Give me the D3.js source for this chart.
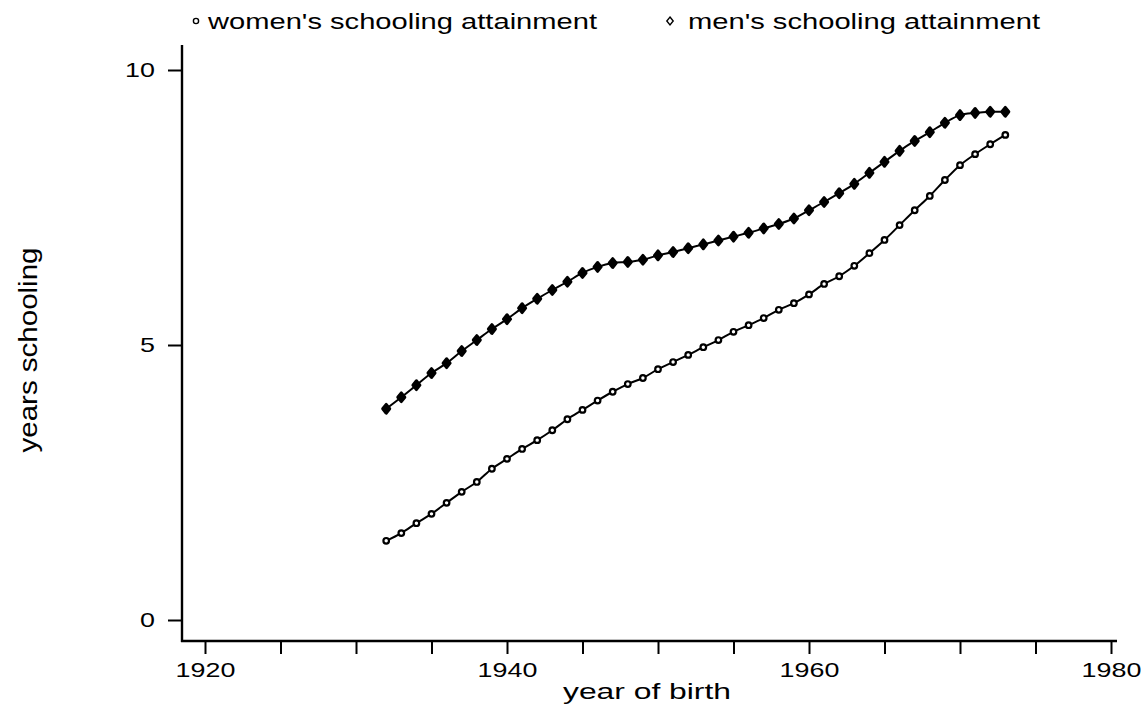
<!DOCTYPE html>
<html>
<head>
<meta charset="utf-8">
<script src="https://cdn.jsdelivr.net/npm/d3@7"></script>
<style>
  html, body { margin: 0; padding: 0; background: #fff; }
  svg { display: block; }
  text { font-family: "Liberation Sans", Arial, Helvetica, sans-serif; fill: #000; }
</style>
</head>
<body>
<svg id="chart" width="1141" height="710"></svg>
<script>
// ---- data ----
const years = [1932,1933,1934,1935,1936,1937,1938,1939,1940,1941,
               1942,1943,1944,1945,1946,1947,1948,1949,1950,1951,
               1952,1953,1954,1955,1956,1957,1958,1959,1960,1961,
               1962,1963,1964,1965,1966,1967,1968,1969,1970,1971,
               1972,1973];
const women = [1.44,1.58,1.76,1.93,2.13,2.33,2.51,2.75,2.93,3.11,
               3.27,3.45,3.65,3.82,3.99,4.15,4.29,4.40,4.56,4.69,
               4.82,4.96,5.09,5.24,5.36,5.49,5.64,5.76,5.92,6.11,
               6.25,6.44,6.67,6.91,7.18,7.45,7.71,8.00,8.27,8.47,
               8.65,8.82];
const men = [3.84,4.05,4.27,4.49,4.67,4.89,5.09,5.29,5.47,5.67,
             5.84,6.00,6.15,6.31,6.42,6.49,6.51,6.55,6.63,6.69,
             6.76,6.83,6.90,6.97,7.04,7.12,7.20,7.30,7.45,7.60,
             7.76,7.93,8.13,8.33,8.53,8.71,8.87,9.04,9.18,9.22,
             9.24,9.24];
const xTickValues = [1920,1925,1930,1935,1940,1945,1950,1955,1960,1965,1970,1975,1980];
const xTickLabels = [1920,1940,1960,1980];
const yTickValues = [0,5,10];
const seriesNames = ["women's schooling attainment", "men's schooling attainment"];
const xTitle = "year of birth";
const yTitle = "years schooling";

// ---- layout ----
const SX = 1.28;           // horizontal glyph stretch seen in the reference
const svg = d3.select("#chart");
const x = d3.scaleLinear().domain([1920, 1980]).range([205, 1111]);
const y = d3.scaleLinear().domain([0, 10]).range([620, 70]);
const axisY = 641, axisX = 182;

// axis lines
svg.append("line").attr("x1", axisX).attr("x2", axisX).attr("y1", 45).attr("y2", axisY + 1)
  .attr("stroke", "#000").attr("stroke-width", 2.4);
svg.append("line").attr("x1", axisX - 1).attr("x2", 1117).attr("y1", axisY).attr("y2", axisY)
  .attr("stroke", "#000").attr("stroke-width", 2.4);

// x axis
const gx = svg.append("g").attr("transform", `translate(0,${axisY})`)
  .call(d3.axisBottom(x).tickValues(xTickValues).tickSize(13).tickPadding(8)
        .tickFormat(d => xTickLabels.includes(d) ? String(d) : ""));
gx.select(".domain").remove();
gx.selectAll(".tick line").attr("stroke", "#000").attr("stroke-width", 2);
gx.selectAll(".tick text").attr("font-size", 21).attr("fill", "#000")
  .attr("font-family", '"Liberation Sans", Arial, sans-serif')
  .attr("transform", `scale(${SX},1)`);

// y axis
const gy = svg.append("g").attr("transform", `translate(${axisX},0)`)
  .call(d3.axisLeft(y).tickValues(yTickValues).tickSize(14).tickPadding(13).tickFormat(d3.format("d")));
gy.select(".domain").remove();
gy.selectAll(".tick line").attr("stroke", "#000").attr("stroke-width", 2);
gy.selectAll(".tick text").attr("font-size", 21).attr("fill", "#000")
  .attr("font-family", '"Liberation Sans", Arial, sans-serif')
  .attr("x", -27 / SX)
  .attr("transform", `scale(${SX},1)`);

// axis titles
svg.append("text").attr("x", 647).attr("y", 699).attr("text-anchor", "middle").attr("font-size", 22)
  .attr("textLength", 168).attr("lengthAdjust", "spacingAndGlyphs").text(xTitle);
svg.append("text").attr("text-anchor", "middle").attr("font-size", 22)
  .attr("textLength", 205).attr("lengthAdjust", "spacingAndGlyphs")
  .attr("transform", `translate(37,350) rotate(-90) scale(1,1.15)`).text(yTitle);

// curves
const line = d3.line().x(d => x(d[0])).y(d => y(d[1])).curve(d3.curveCatmullRom.alpha(0.5));
const wData = years.map((yr, i) => [yr, women[i]]);
const mData = years.map((yr, i) => [yr, men[i]]);
svg.append("path").datum(wData).attr("d", line).attr("fill", "none")
  .attr("stroke", "#000").attr("stroke-width", 2);
svg.append("path").datum(mData).attr("d", line).attr("fill", "none")
  .attr("stroke", "#000").attr("stroke-width", 2);

// markers
const diamond = (r) => `M0,${-r}L${r*0.8},0L0,${r}L${-r*0.8},0Z`;
svg.append("g").selectAll("circle").data(wData).join("circle")
  .attr("cx", d => x(d[0])).attr("cy", d => y(d[1])).attr("r", 2.8)
  .attr("fill", "#fff").attr("stroke", "#000").attr("stroke-width", 2.2);
svg.append("g").selectAll("path").data(mData).join("path")
  .attr("transform", d => `translate(${x(d[0])},${y(d[1])})`)
  .attr("d", diamond(4.4))
  .attr("fill", "#000").attr("stroke", "#000").attr("stroke-width", 3)
  .attr("stroke-linejoin", "round");

// legend
const leg = svg.append("g");
leg.append("circle").attr("cx", 196).attr("cy", 21).attr("r", 2.6)
  .attr("fill", "#fff").attr("stroke", "#000").attr("stroke-width", 1.4);
leg.append("text").attr("x", 208).attr("y", 29).attr("font-size", 22)
  .attr("textLength", 389).attr("lengthAdjust", "spacingAndGlyphs").text(seriesNames[0]);
leg.append("path").attr("transform", "translate(670,21)").attr("d", diamond(4))
  .attr("fill", "#fff").attr("stroke", "#000").attr("stroke-width", 1.4);
leg.append("text").attr("x", 688).attr("y", 29).attr("font-size", 22)
  .attr("textLength", 352).attr("lengthAdjust", "spacingAndGlyphs").text(seriesNames[1]);
</script>
</body>
</html>
